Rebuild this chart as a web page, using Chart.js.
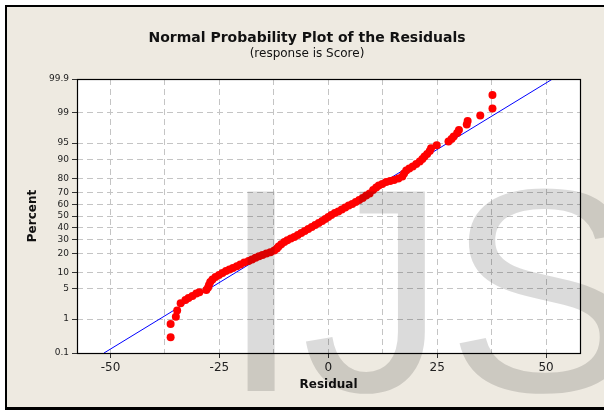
<!DOCTYPE html>
<html>
<head>
<meta charset="utf-8">
<script src="https://cdn.jsdelivr.net/npm/chart.js@4.4.1/dist/chart.umd.min.js"></script>
<style>
html,body{margin:0;padding:0;background:#fff;}
#wrap{width:604px;height:410px;position:relative;}
canvas{display:block;}
</style>
</head>
<body>
<div id="wrap"><canvas id="c" width="604" height="410"></canvas></div>
<script>
// ---- data ----
const residuals = [-36.2,-36.2,-35.0,-34.7,-33.9,-32.8,-32.1,-31.2,-30.3,-29.6,-28.0,-27.6,-27.4,-27.1,-26.6,-25.9,-25.1,-24.3,-23.5,-22.7,-21.9,-21.0,-20.2,-19.3,-18.3,-17.5,-16.7,-15.9,-15.1,-14.2,-13.3,-12.4,-11.8,-11.4,-10.8,-10.1,-9.4,-8.6,-7.8,-7.0,-6.2,-5.4,-4.6,-3.8,-3.0,-2.2,-1.4,-0.7,0.0,0.7,1.5,2.3,3.1,3.9,4.7,5.5,6.3,7.1,7.9,8.7,9.5,10.3,11.0,11.6,12.4,13.3,14.2,15.1,16.1,17.0,17.4,17.9,18.6,19.4,20.2,21.0,21.6,22.1,22.7,23.3,23.6,24.9,27.6,28.3,28.8,29.6,30.0,31.8,32.0,34.9,37.7,37.7];
const percents = [0.31,0.74,1.16,1.65,2.45,2.9,3.2,3.56,4.0,4.26,4.76,5.34,5.98,6.84,7.6,8.44,9.16,9.93,10.75,11.38,12.04,12.84,13.7,14.7,15.5,16.3,17.3,18.2,18.9,19.9,20.6,21.8,23.2,24.6,26.2,27.9,29.2,30.6,31.8,33.4,35.1,36.8,38.5,40.2,42.0,43.7,45.5,47.3,49.1,50.9,52.7,54.0,55.8,57.6,59.4,60.7,62.4,64.1,65.8,67.8,69.4,72.1,74.0,75.4,76.5,77.8,78.5,79.2,80.1,81.4,83.1,84.8,85.8,86.8,88.0,89.0,90.1,91.0,91.9,92.9,93.7,94.5,95.35,95.9,96.35,96.94,97.38,98.05,98.39,98.83,99.23,99.68];
const fitResiduals = [-51.5, 51.5];
const fitPercents = [0.1, 99.9];
const yTickLabels = [0.1, 1, 5, 10, 20, 30, 40, 50, 60, 70, 80, 90, 95, 99, 99.9];
const xTickValues = [-50, -37.5, -25, -12.5, 0, 12.5, 25, 37.5, 50];
const xLabelValues = [-50, -25, 0, 25, 50];

// inverse normal CDF (probability scale transform)
function probit(p){
  const a=[-3.969683028665376e+01,2.209460984245205e+02,-2.759285104469687e+02,1.383577518672690e+02,-3.066479806614716e+01,2.506628277459239e+00];
  const b=[-5.447609879822406e+01,1.615858368580409e+02,-1.556989798598866e+02,6.680131188771972e+01,-1.328068155288572e+01];
  const c=[-7.784894002430293e-03,-3.223964580411365e-01,-2.400758277161838e+00,-2.549671032188624e+00,4.374664141464968e+00,2.938163982698783e+00];
  const d=[7.784695709041462e-03,3.224671290700398e-01,2.445134137142996e+00,3.754408661907416e+00];
  const pl=0.02425, ph=1-pl; let q,r;
  if(p<pl){q=Math.sqrt(-2*Math.log(p));return (((((c[0]*q+c[1])*q+c[2])*q+c[3])*q+c[4])*q+c[5])/((((d[0]*q+d[1])*q+d[2])*q+d[3])*q+1);}
  if(p<=ph){q=p-0.5;r=q*q;return (((((a[0]*r+a[1])*r+a[2])*r+a[3])*r+a[4])*r+a[5])*q/(((((b[0]*r+b[1])*r+b[2])*r+b[3])*r+b[4])*r+1);}
  q=Math.sqrt(-2*Math.log(1-p));return -(((((c[0]*q+c[1])*q+c[2])*q+c[3])*q+c[4])*q+c[5])/((((d[0]*q+d[1])*q+d[2])*q+d[3])*q+1);
}
const zOf = pct => probit(pct/100);

const pointData = residuals.map((r,i)=>({x:r, y:zOf(percents[i])}));
const fitData = fitResiduals.map((r,i)=>({x:r, y:zOf(fitPercents[i])}));

const BG = '#EEEAE1';

const framePlugin = {
  id:'frame',
  beforeDraw(chart){
    const ctx = chart.ctx;
    ctx.save();
    ctx.fillStyle = '#ffffff';
    ctx.fillRect(0,0,604,410);
    ctx.fillStyle = '#000000';
    ctx.fillRect(5,5,599,405);
    ctx.fillStyle = BG;
    ctx.fillRect(7,7,597,400);
    const a = chart.chartArea;
    ctx.fillStyle = '#ffffff';
    ctx.fillRect(a.left, a.top, a.right-a.left, a.bottom-a.top);
    ctx.restore();
  },
  afterDraw(chart){
    const ctx = chart.ctx;
    const a = chart.chartArea;
    ctx.save();
    ctx.strokeStyle = '#000000';
    ctx.lineWidth = 1.2;
    ctx.strokeRect(Math.round(a.left)+0.5, Math.round(a.top)+0.5, Math.round(a.right-a.left), Math.round(a.bottom-a.top));
    // watermark
    ctx.fillStyle = 'rgba(0,0,0,0.14)';
    ctx.font = '290px "Liberation Sans", Arial, sans-serif';
    ctx.textBaseline = 'alphabetic';
    ctx.textAlign = 'left';
    ctx.fillText('IJS', 220.8, 391);
    ctx.restore();
  }
};

const gridDash = [6,4];

new Chart(document.getElementById('c'), {
  type:'scatter',
  data:{
    datasets:[
      {label:'Residuals', data:pointData, backgroundColor:'#ff0000', borderColor:'#ff0000', borderWidth:0, pointRadius:4, pointHoverRadius:4},
      {type:'line', label:'Fit', data:fitData, borderColor:'#0000ff', borderWidth:1, pointRadius:0, showLine:true, fill:false}
    ]
  },
  options:{
    responsive:false,
    animation:false,
    events:[],
    layout:{padding:{left:10, right:0, top:0, bottom:0}},
    plugins:{
      legend:{display:false},
      tooltip:{enabled:false},
      title:{display:true, text:'Normal Probability Plot of the Residuals', color:'#111', font:{family:'"DejaVu Sans"', size:14, weight:'bold', lineHeight:1.2}, padding:{top:30,bottom:0}},
      subtitle:{display:true, text:'(response is Score)', color:'#111', font:{family:'"DejaVu Sans"', size:12, lineHeight:1.2}, padding:{top:0,bottom:17.8}}
    },
    scales:{
      x:{
        type:'linear', min:-57.7, max:57.8,
        afterBuildTicks(scale){ scale.ticks = xTickValues.map(v=>({value:v})); },
        afterFit(scale){ scale.height = 57; },
        ticks:{autoSkip:false, maxRotation:0, padding:3, color:'#222', font:{family:'"DejaVu Sans"', size:12},
          callback:(v)=> xLabelValues.includes(v) ? String(v) : ''},
        grid:{color:'#c4c4c4', lineWidth:1, tickLength:5, tickWidth:1,
          tickColor:(ctx)=> (ctx.tick && xLabelValues.includes(ctx.tick.value)) ? '#333' : 'rgba(0,0,0,0)'},
        border:{display:false, dash:gridDash},
        title:{display:true, text:'Residual', color:'#111', font:{family:'"DejaVu Sans"', size:12, weight:'bold', lineHeight:1.2}, padding:{top:0,bottom:17.8}}
      },
      y:{
        type:'linear', min:zOf(0.1), max:zOf(99.9),
        afterBuildTicks(scale){ scale.ticks = yTickLabels.map(v=>({value:zOf(v)})); },
        afterFit(scale){ scale.width = 67; },
        ticks:{autoSkip:false, padding:3, color:'#222', font:{family:'"DejaVu Sans"', size:9},
          callback:(v,i)=> String(yTickLabels[i])},
        grid:{color:'#c4c4c4', lineWidth:1, tickLength:5, tickWidth:1, tickColor:'#333'},
        border:{display:false, dash:gridDash},
        title:{display:true, text:'Percent', color:'#111', font:{family:'"DejaVu Sans"', size:12, weight:'bold', lineHeight:1.2}, padding:{top:15.8,bottom:0}}
      },
      yRightSpace:{
        type:'linear', position:'right', display:true, min:0, max:1,
        afterFit(scale){ scale.width = 24; },
        ticks:{display:false},
        grid:{display:false, drawTicks:false},
        border:{display:false},
        title:{display:false}
      }
    }
  },
  plugins:[framePlugin]
});
</script>
</body>
</html>
